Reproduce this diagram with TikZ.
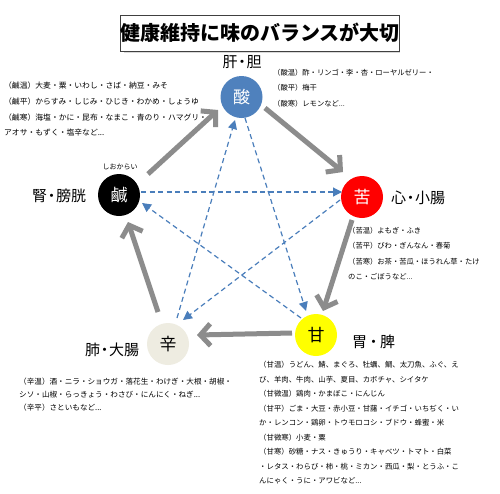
\documentclass[tikz,border=0pt]{standalone}
\usepackage{fontspec}
\setmainfont{Noto Sans CJK JP}
\usetikzlibrary{arrows.meta,calc}
\definecolor{suanblue}{HTML}{4F81BD}
\definecolor{kured}{HTML}{FF0000}
\definecolor{ganyellow}{HTML}{FFFF00}
\definecolor{xinbeige}{HTML}{EEECE1}
\definecolor{arrowgray}{HTML}{8C8C8C}
\definecolor{ctlblue}{HTML}{4A7EBB}
\begin{document}
\begin{tikzpicture}[x=1pt,y=-1pt]
\tikzset{
  elem/.style={circle, minimum size=42pt, inner sep=0pt, font=\fontsize{17}{17}\selectfont},
  organ/.style={inner sep=0pt, font=\fontsize{15}{15}\selectfont},
  food/.style={inner sep=0pt, anchor=north west, align=left},
  gen/.style={draw=arrowgray, line width=5pt, -{Straight Barb[length=10pt,width=22pt]}},
  ctl/.style={draw=ctlblue, line width=1.2pt, dash pattern=on 5pt off 3.5pt, -{Triangle[length=9pt,width=9pt]}},
  titlebox/.style={draw=black!75, line width=0.8pt, minimum width=276pt, minimum height=36pt, inner sep=0pt, font=\fontsize{20}{20}\selectfont\bfseries}
}
\useasboundingbox (0,0) rectangle (500,493);
\fill[white] (0,0) rectangle (500,493);

% title
\fill[black!15] (124,17) rectangle (400,53);
\node[titlebox, fill=white] (title) at (260,33) {健康維持に味のバランスが大切};

% element circles
\node[elem, fill=suanblue, text=white] (suan) at (241.5,97) {酸};
\node[elem, fill=kured, text=white] (ku) at (362,197) {苦};
\node[elem, fill=ganyellow, text=black] (gan) at (316,335) {甘};
\node[elem, fill=xinbeige, text=black] (xin) at (168,344) {辛};
\node[elem, fill=black, text=white] (xian) at (119,195) {鹹};

% organ labels
\node[organ] (lgan) at (242,62) {肝{\kern-3pt}・{\kern-3pt}胆};
\node[organ, anchor=west] (lku) at (391,198) {心{\kern-3pt}・{\kern-3pt}小腸};
\node[organ, anchor=west] (lgn) at (352,342) {胃{\kern-1pt}・{\kern-1pt}脾};
\node[organ] (lxin) at (112,350) {肺{\kern-3pt}・{\kern-3pt}大腸};
\node[organ] (lxian) at (59,196) {腎{\kern-3pt}・{\kern-3pt}膀胱};
\node[inner sep=0pt, font=\fontsize{7}{7}\selectfont] (salty) at (120,167) {しおからい};

% generating cycle (gray)
\draw[gen] ($(xian)+(29,-21)$) -- ($(suan)+(-23.5,13)$);
\draw[gen] ($(suan)+(23.5,11)$) -- ($(ku)+(-19,-25)$);
\draw[gen] ($(ku)+(-10,23)$) -- ($(gan)+(7,-24)$);
\draw[gen] ($(gan)+(-24,-2)$) -- ($(xin)+(29,-9)$);
\draw[gen] ($(xin)+(-10,-32)$) -- ($(xian)+(9,27)$);

% controlling cycle (blue dashed)
\draw[ctl] ($(xian)+(22,-3)$) -- ($(ku)+(-20,-5)$);
\draw[ctl] ($(suan)+(3.5,21)$) -- ($(gan)+(-10,-24)$);
\draw[ctl] ($(xin)+(9,-26)$) -- ($(suan)+(-6.5,23)$);
\draw[ctl] ($(ku)+(-22,3)$) -- ($(xin)+(15,-24)$);
\draw[ctl] ($(gan)+(-15,-17)$) -- ($(xian)+(23,8)$);

% food texts
\node[food, font=\fontsize{7.8}{15.7}\selectfont] (txian) at (4,82) {（鹹温）大麦・粟・いわし・さば・納豆・みそ\\（鹹平）からすみ・しじみ・ひじき・わかめ・しょうゆ\\（鹹寒）海塩・かに・昆布・なまこ・青のり・ハマグリ・\\アオサ・もずく・塩辛など...};
\node[food, font=\fontsize{7.3}{15.5}\selectfont] (tsuan) at (273,69) {（酸温）酢・リンゴ・李・杏・ローヤルゼリー・\\（酸平）梅干\\（酸寒）レモンなど...};
\node[food, font=\fontsize{7.3}{15.3}\selectfont] (tku) at (348,227) {（苦温）よもぎ・ふき\\（苦平）びわ・ぎんなん・春菊\\（苦寒）お茶・苦瓜・ほうれん草・たけ\\のこ・ごぼうなど...};
\node[food, font=\fontsize{7.6}{12.7}\selectfont] (txin) at (19,378) {（辛温）酒・ニラ・ショウガ・落花生・わけぎ・大根・胡椒・\\シソ・山椒・らっきょう・わさび・にんにく・ねぎ...\\（辛平）さといもなど...};
\node[food, font=\fontsize{7.4}{14.5}\selectfont] (tgan) at (259,361) {（甘温）うどん、鯖、まぐろ、牡蠣、鯛、太刀魚、ふぐ、え\\び、羊肉、牛肉、山芋、夏目、カボチャ、シイタケ\\（甘微温）鶏肉・かまぼこ・にんじん\\（甘平）ごま・大豆・赤小豆・甘藷・イチゴ・いちぢく・い\\か・レンコン・鶏卵・トウモロコシ・ブドウ・蜂蜜・米\\（甘微寒）小麦・粟\\（甘寒）砂糖・ナス・きゅうり・キャベツ・トマト・白菜\\・レタス・わらび・柿・桃・ミカン・西瓜・梨・とうふ・こ\\んにゃく・うに・アワビなど...};
\end{tikzpicture}
\end{document}
